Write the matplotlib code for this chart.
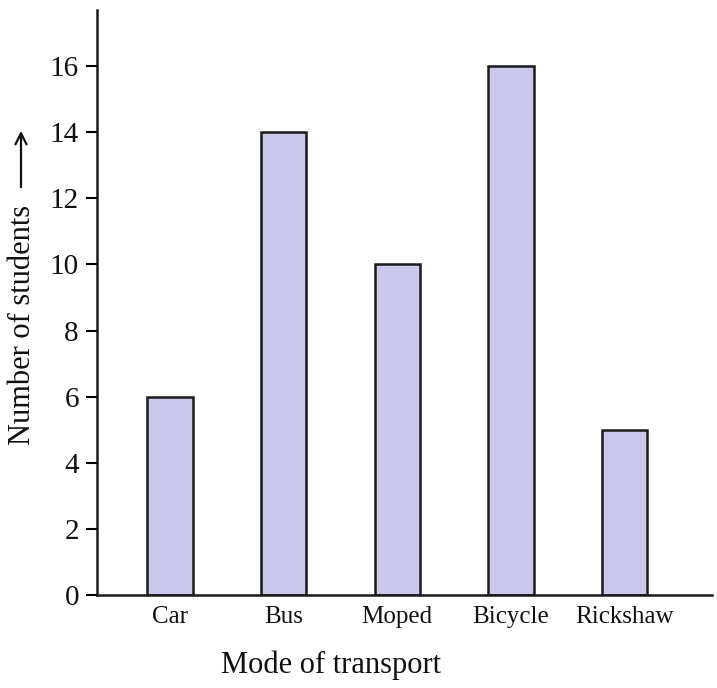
import matplotlib
matplotlib.use("Agg")
import matplotlib.pyplot as plt

categories = ["Car", "Bus", "Moped", "Bicycle", "Rickshaw"]
students = [6, 14, 10, 16, 5]
yticks = [0, 2, 4, 6, 8, 10, 12, 14, 16]

plt.rcParams['font.family'] = ['Liberation Serif', 'DejaVu Serif']

fig = plt.figure(figsize=(7.17, 6.88), dpi=100)
ax = fig.add_axes([97/717, 93/688, 615/717, 585/688])

x = list(range(len(categories)))
ax.bar(x, students, width=0.4, color="#c9c8ea", edgecolor="#1a1a1a", linewidth=1.8)

ax.set_xlim(-0.642, 4.77)
ax.set_ylim(0, 17.7)
ax.set_xticks(x)
ax.set_xticklabels(categories, fontsize=18, color="#111111")
ax.set_yticks(yticks)
ax.set_yticklabels([str(t) for t in yticks], fontsize=21, color="#111111")
ax.tick_params(axis='x', length=0, pad=8)
ax.tick_params(axis='y', length=8, width=1.5, direction='out', pad=5)

for s in ['top', 'right']:
    ax.spines[s].set_visible(False)
for s in ['left', 'bottom']:
    ax.spines[s].set_linewidth(1.8)
    ax.spines[s].set_color("#1a1a1a")

ax.set_xlabel("Mode of transport", fontsize=22, color="#111111")
ax.xaxis.set_label_coords(0.38, -0.095)
ax.set_ylabel("Number of students", fontsize=22, color="#111111")
ax.yaxis.set_label_coords(-0.097, 0.4615)

fig.add_artist(matplotlib.patches.FancyArrowPatch(
    (21/717, 1 - 190/688), (21/717, 1 - 128/688),
    transform=fig.transFigure, arrowstyle='->', mutation_scale=20,
    lw=1.6, color="#111111"))

fig.savefig("out.png", dpi=100)
